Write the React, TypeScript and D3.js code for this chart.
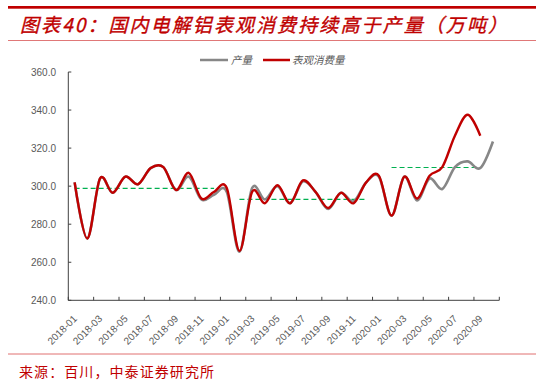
import React from "react";
import * as d3 from "d3";

const months = [
  "2018-01","2018-02","2018-03","2018-04","2018-05","2018-06","2018-07","2018-08","2018-09","2018-10","2018-11","2018-12",
  "2019-01","2019-02","2019-03","2019-04","2019-05","2019-06","2019-07","2019-08","2019-09","2019-10","2019-11","2019-12",
  "2020-01","2020-02","2020-03","2020-04","2020-05","2020-06","2020-07","2020-08","2020-09","2020-10",
];

const production = [
  302, 272.5, 304, 296.5, 305, 301, 309.5, 310, 298, 305, 293, 295.5,
  297, 265.5, 299, 293, 300, 291, 302.5, 297, 288, 296.5, 292, 302,
  305, 284.5, 305, 292.5, 304, 298.5, 310, 313, 309.5, 323.5,
];

const consumption = [
  302, 272.5, 304, 296.5, 305, 301, 309.5, 310, 298, 307, 293.5, 297,
  299, 266, 297, 291, 300.5, 291, 303, 297, 288.5, 296.5, 291, 302,
  305.5, 284.5, 305, 293.5, 305.5, 310, 326.5, 337.5, 326.5,
];

const avgLines = [
  { from: "2018-01", to: "2018-12", value: 298.8 },
  { from: "2019-02", to: "2019-12", value: 293 },
  { from: "2020-02", to: "2020-09", value: 309.8 },
];

const yTicks = [240, 260, 280, 300, 320, 340, 360];
const seriesNames = ["产量", "表观消费量"];
const title = "图表40：国内电解铝表观消费持续高于产量（万吨）";
const source = "来源：百川，中泰证券研究所";

const W = 536;
const H = 382;
const plot = { left: 68.3, right: 499.3, top: 72, bottom: 300.3 };

export default function App() {
  const x = d3.scaleBand<string>().domain(months).range([plot.left, plot.right]).padding(0);
  const bw = x.bandwidth();
  const cx = (m: string) => (x(m) as number) + bw / 2;
  const y = d3.scaleLinear().domain([240, 360]).range([plot.bottom, plot.top]);

  const line = d3
    .line<number>()
    .x((_, i) => cx(months[i]))
    .y((v) => y(v))
    .curve(d3.curveCardinal.tension(0));

  const axisColor = "#404040";
  const labelColor = "#595959";
  const red = "#C00000";
  const gray = "#878787";

  const xTickIdx = months.map((_, i) => i).filter((i) => i % 2 === 0);

  return (
    <svg
      width={W}
      height={H}
      style={{ position: "absolute", left: 0, top: 0, background: "#fff" }}
      fontFamily="'Liberation Sans', Arial, sans-serif"
    >
      <rect x={0} y={0} width={W} height={H} fill="#fff" />
      {/* header */}
      <rect x={8} y={6} width={W - 8} height={2.7} fill={red} />
      <text
        x={20}
        y={32}
        fontSize={19}
        fontStyle="italic"
        fill={red}
        stroke={red}
        strokeWidth={0.35}
        fontFamily="'Noto Sans CJK SC', sans-serif"
        textLength={487}
        lengthAdjust="spacing"
      >
        {title}
      </text>
      <line x1={8} x2={W} y1={40.5} y2={40.5} stroke="#E07878" strokeWidth={1} />

      {/* legend */}
      <line x1={200} x2={228} y1={60} y2={60} stroke={gray} strokeWidth={2.5} />
      <text x={231} y={63.5} fontSize={10.5} fill={labelColor} fontFamily="'Noto Sans CJK SC', sans-serif" fontStyle="italic">
        {seriesNames[0]}
      </text>
      <line x1={263} x2={290} y1={60} y2={60} stroke={red} strokeWidth={2.5} />
      <text x={292} y={63.5} fontSize={10.5} fill={labelColor} fontFamily="'Noto Sans CJK SC', sans-serif" fontStyle="italic">
        {seriesNames[1]}
      </text>

      {/* y axis */}
      <line x1={plot.left} x2={plot.left} y1={plot.top} y2={plot.bottom} stroke={axisColor} strokeWidth={1} />
      {yTicks.map((t) => (
        <g key={t}>
          <line x1={plot.left} x2={plot.left + 3} y1={y(t)} y2={y(t)} stroke={axisColor} strokeWidth={1} />
          <text x={56} y={y(t) + 3.5} fontSize={10} fill={labelColor} textAnchor="end">
            {d3.format(".1f")(t)}
          </text>
        </g>
      ))}

      {/* x axis */}
      <line x1={plot.left} x2={plot.right} y1={plot.bottom} y2={plot.bottom} stroke={axisColor} strokeWidth={1} />
      {[...xTickIdx.map((i) => x(months[i]) as number), plot.right].map((px, k) => (
        <line key={k} x1={px} x2={px} y1={plot.bottom} y2={plot.bottom - 3.5} stroke={axisColor} strokeWidth={1} />
      ))}
      {xTickIdx.map((i) => {
        const ax = cx(months[i]) + 3;
        const ay = plot.bottom + 19;
        return (
          <text
            key={i}
            x={ax}
            y={ay}
            fontSize={10}
            fill={labelColor}
            textAnchor="end"
            transform={`rotate(-45 ${ax} ${ay})`}
          >
            {months[i]}
          </text>
        );
      })}

      {/* average dashed lines */}
      {avgLines.map((a, k) => (
        <line
          key={k}
          x1={cx(a.from)}
          x2={cx(a.to)}
          y1={y(a.value)}
          y2={y(a.value)}
          stroke="#00B050"
          strokeWidth={1.2}
          strokeDasharray="5 3"
        />
      ))}

      {/* series */}
      <path d={line(production) || ""} fill="none" stroke={gray} strokeWidth={2.6} />
      <path d={line(consumption) || ""} fill="none" stroke={red} strokeWidth={2.4} />

      {/* footer */}
      <line x1={8} x2={W} y1={354} y2={354} stroke="#E07070" strokeWidth={1} />
      <text
        x={19}
        y={377}
        fontSize={14}
        fill={red}
        fontFamily="'Noto Sans CJK SC', sans-serif"
        textLength={195}
        lengthAdjust="spacing"
      >
        {source}
      </text>
    </svg>
  );
}
